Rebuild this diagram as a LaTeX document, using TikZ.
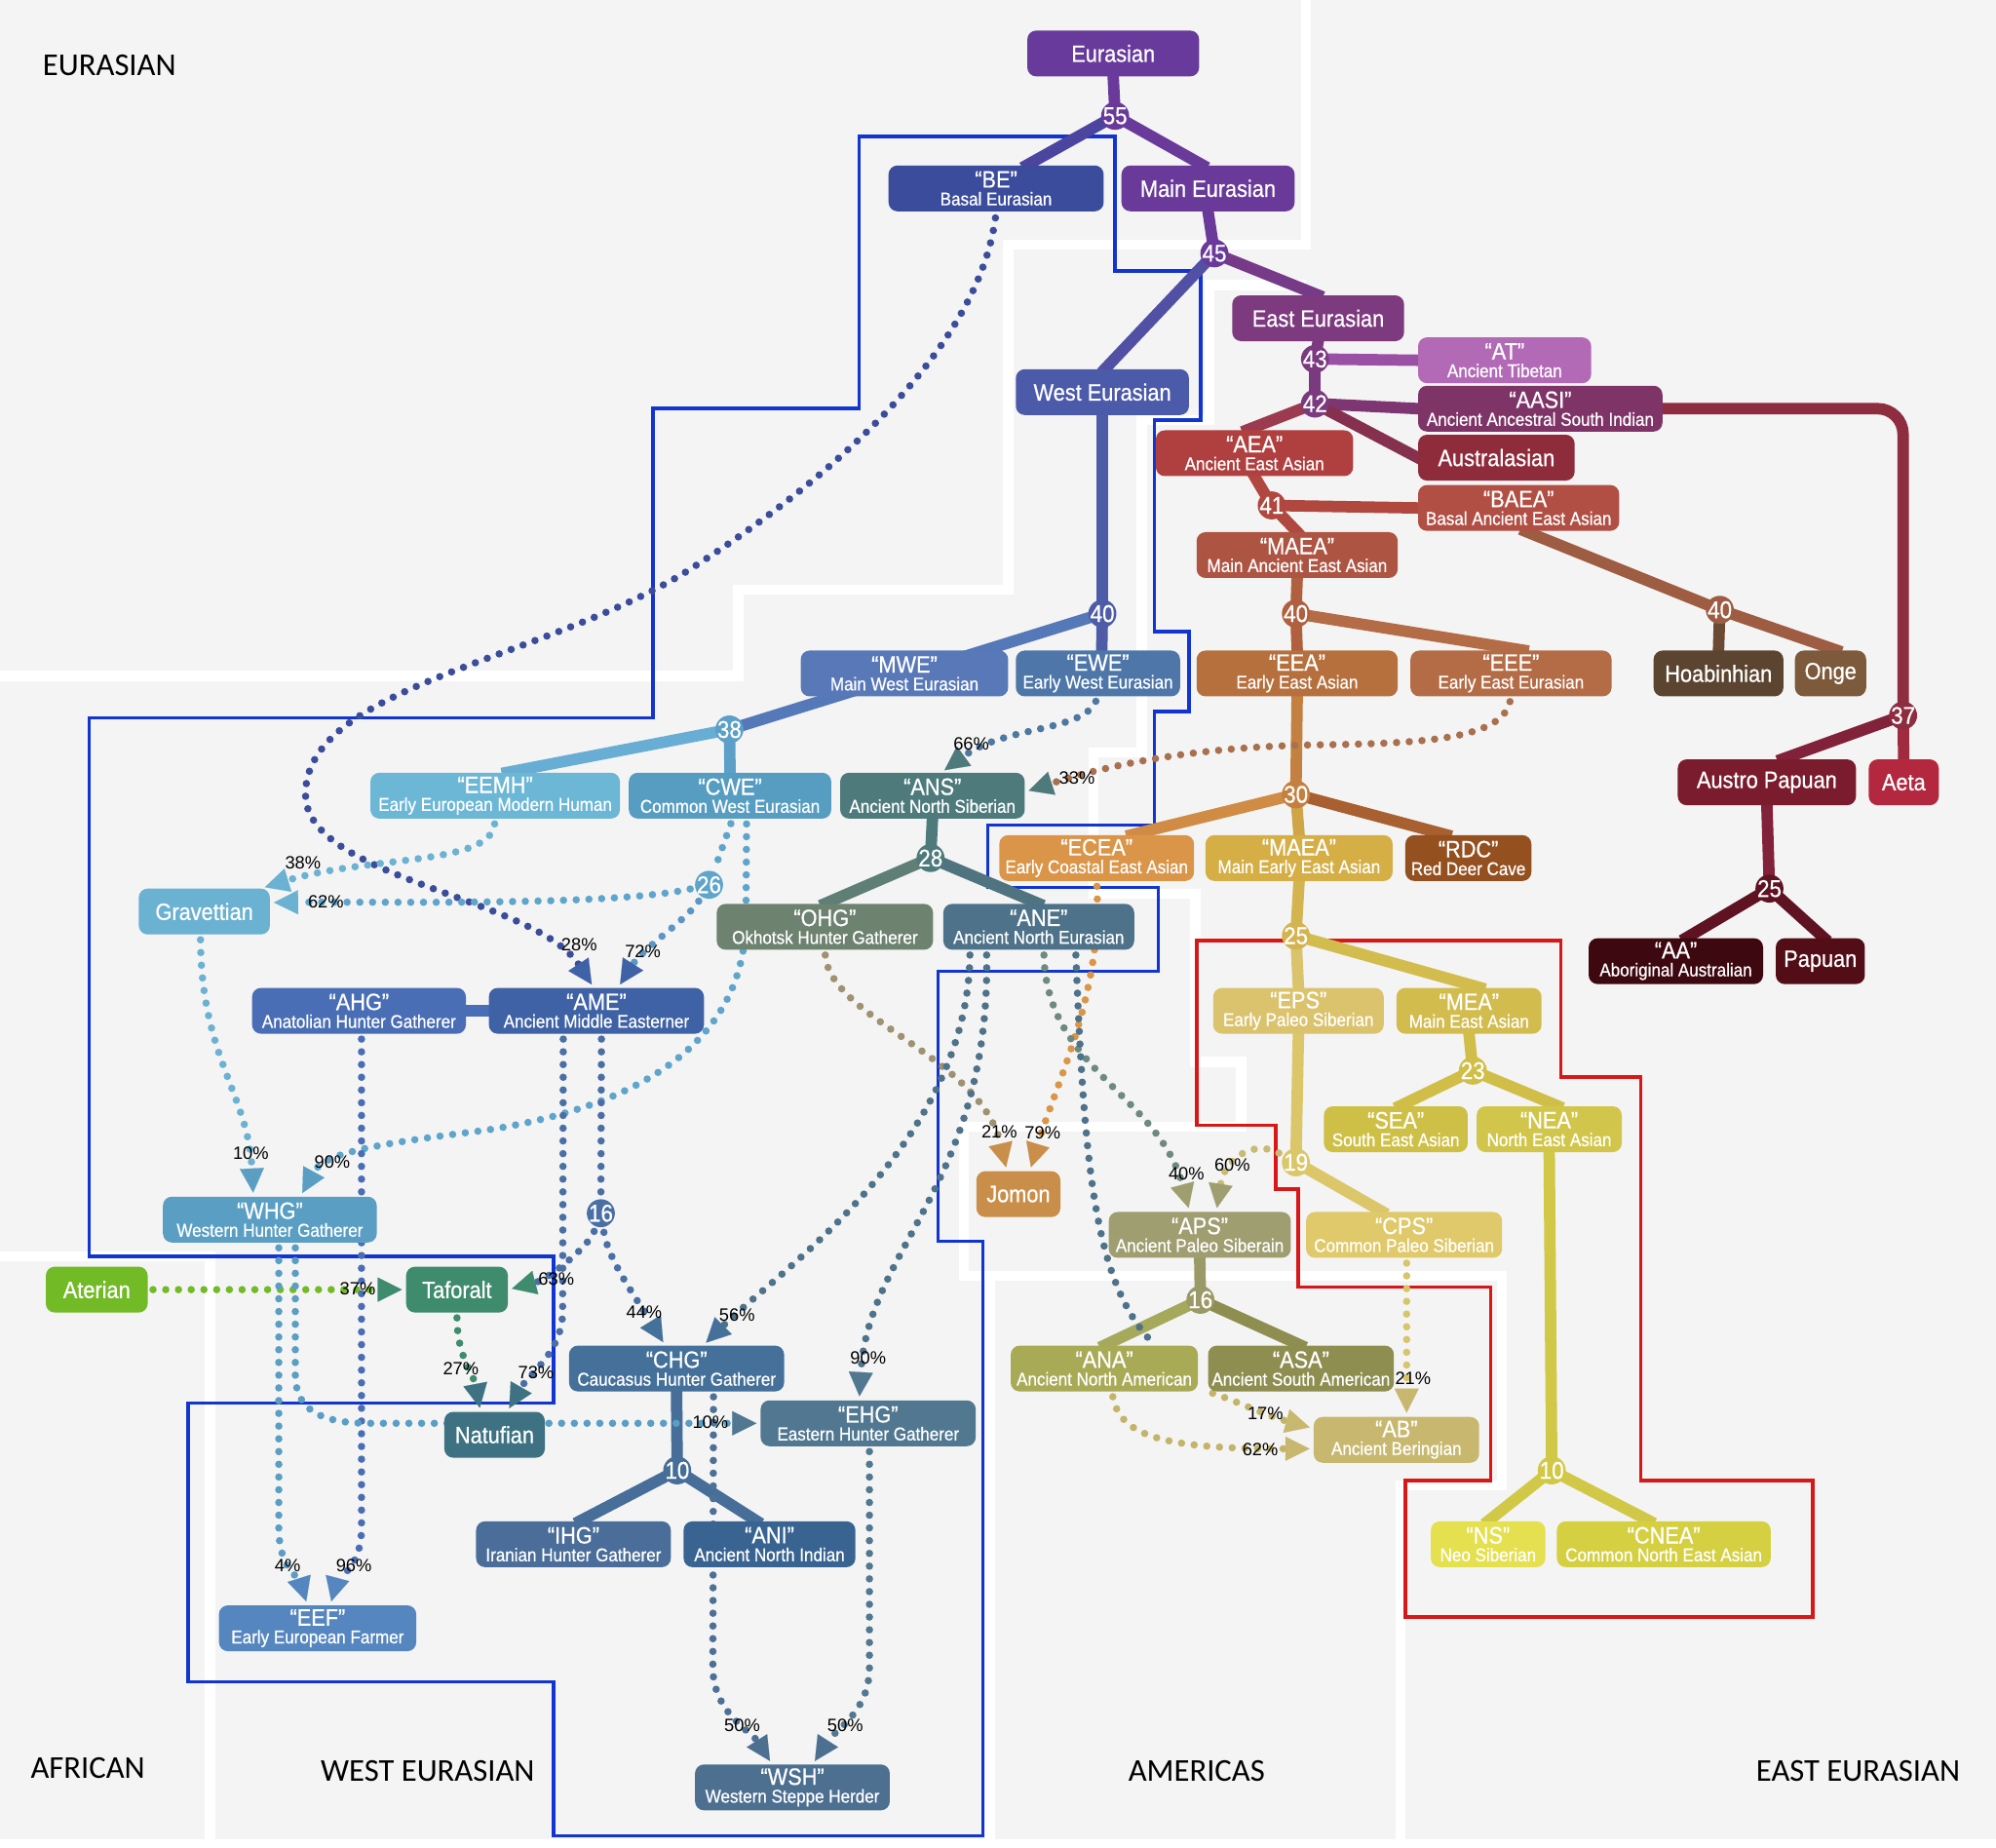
\documentclass[tikz,border=0pt]{standalone}
\usepackage{fontspec}
\newfontfamily\boxfont{Liberation Sans}[FakeStretch=0.9, FakeBold=0.6]
\newfontfamily\pctfont{Liberation Sans}
\newfontfamily\zonefont{Carlito}
\usetikzlibrary{arrows.meta}
\pgfdeclarelayer{back}
\pgfdeclarelayer{mid}
\pgfsetlayers{back,mid,main}
% box colours
\definecolor{cEur}{HTML}{683A9B}\definecolor{cBE}{HTML}{3A4C9B}\definecolor{cMain}{HTML}{6A3A9A}
\definecolor{cEast}{HTML}{7D3A7E}\definecolor{cWest}{HTML}{4C5AAA}\definecolor{cAT}{HTML}{B36AB6}
\definecolor{cAASI}{HTML}{7F3468}\definecolor{cAEA}{HTML}{B0403F}\definecolor{cAustral}{HTML}{8F2C3C}
\definecolor{cBAEA}{HTML}{B24F45}\definecolor{cMAEA}{HTML}{AE5442}\definecolor{cMWE}{HTML}{5878B8}
\definecolor{cEWE}{HTML}{4E76A8}\definecolor{cEEA}{HTML}{B6703E}\definecolor{cEEE}{HTML}{B46C47}
\definecolor{cHoab}{HTML}{5C4530}\definecolor{cOnge}{HTML}{7C5A3B}\definecolor{cEEMH}{HTML}{6CB6D6}
\definecolor{cCWE}{HTML}{579DC2}\definecolor{cANS}{HTML}{4E7A7B}\definecolor{cAP}{HTML}{7B1C2E}
\definecolor{cAeta}{HTML}{B4283F}\definecolor{cECEA}{HTML}{DA9548}\definecolor{cMAEAb}{HTML}{D5AE46}
\definecolor{cRDC}{HTML}{955020}\definecolor{cGrav}{HTML}{6BB1D2}\definecolor{cOHG}{HTML}{6E8270}
\definecolor{cANE}{HTML}{4D7289}\definecolor{cAA}{HTML}{3D0810}\definecolor{cPapuan}{HTML}{520D17}
\definecolor{cAHG}{HTML}{4A6EB5}\definecolor{cAME}{HTML}{3F62A6}\definecolor{cEPS}{HTML}{DBC36E}
\definecolor{cMEA}{HTML}{D3BC4E}\definecolor{cSEA}{HTML}{CEC047}\definecolor{cNEA}{HTML}{D1C64B}
\definecolor{cJomon}{HTML}{C98F4A}\definecolor{cWHG}{HTML}{5B9EC4}\definecolor{cAPS}{HTML}{9F9E71}
\definecolor{cCPS}{HTML}{E0C96A}\definecolor{cAterian}{HTML}{72BB26}\definecolor{cTaforalt}{HTML}{3E8B6D}
\definecolor{cCHG}{HTML}{44709A}\definecolor{cANA}{HTML}{A9AA56}\definecolor{cASA}{HTML}{8E8E50}
\definecolor{cNatufian}{HTML}{3E7282}\definecolor{cEHG}{HTML}{527891}\definecolor{cAB}{HTML}{C8B86F}
\definecolor{cIHG}{HTML}{4A6E99}\definecolor{cANI}{HTML}{396391}\definecolor{cNS}{HTML}{E4E04F}
\definecolor{cCNEA}{HTML}{D5D042}\definecolor{cEEF}{HTML}{5586BF}\definecolor{cWSH}{HTML}{4D6F90}
% line colours
\definecolor{lBE}{HTML}{4C45A0}\definecolor{lWestTop}{HTML}{5250A5}\definecolor{lEastTop}{HTML}{763A88}
\definecolor{lEast}{HTML}{7B3A80}\definecolor{lAT}{HTML}{9A50A5}\definecolor{lAASI}{HTML}{7E3672}
\definecolor{lAEA}{HTML}{9C3B50}\definecolor{lAustral}{HTML}{85304F}\definecolor{lAASIr}{HTML}{8E2C40}
\definecolor{lAeta}{HTML}{A02A40}\definecolor{lAP}{HTML}{82223A}\definecolor{lAPlow}{HTML}{5E1222}
\definecolor{lAEAlow}{HTML}{B04840}\definecolor{lBAEA}{HTML}{9E5C42}\definecolor{lHoab}{HTML}{6A4A32}
\definecolor{lMAEA}{HTML}{B0603F}\definecolor{lEEA}{HTML}{C48040}\definecolor{lECEA}{HTML}{D08C45}
\definecolor{lMAEAb}{HTML}{CFA548}\definecolor{lRDC}{HTML}{A86030}\definecolor{lMAEAlow}{HTML}{D4B450}
\definecolor{lEPS}{HTML}{DCC66A}\definecolor{lMEA}{HTML}{D0BE48}\definecolor{lNEA}{HTML}{D2C848}
\definecolor{lWest}{HTML}{4E5CA8}\definecolor{lWestMid}{HTML}{5478B8}\definecolor{lEEMH}{HTML}{68AED4}
\definecolor{lCWE}{HTML}{5CA0C8}\definecolor{lOHG}{HTML}{5E7E76}\definecolor{lANE}{HTML}{4F7480}
\definecolor{lAPS}{HTML}{9A9A68}\definecolor{lANA}{HTML}{A6A85C}\definecolor{lCHG}{HTML}{466E98}
% dotted colours
\definecolor{dBE}{HTML}{3B4D9A}\definecolor{dEEMH}{HTML}{6CB2D3}\definecolor{dCWE}{HTML}{5FA5CB}
\definecolor{dCWEb}{HTML}{5A96C6}\definecolor{dEWE}{HTML}{4E78A0}\definecolor{dEEE}{HTML}{A8704E}
\definecolor{dOHG}{HTML}{9E9272}\definecolor{dANEb}{HTML}{6E8A80}\definecolor{dYel}{HTML}{C8BC74}
\definecolor{dAME}{HTML}{4A6FA5}\definecolor{dCHG}{HTML}{4E7096}\definecolor{dAB}{HTML}{C4B46A}
\definecolor{dCPS}{HTML}{D8C46A}
\definecolor{bgray}{HTML}{F4F4F4}\definecolor{bluebox}{HTML}{1234D0}\definecolor{redbox}{HTML}{D81818}
\newcommand{\pop}[2]{{\fontsize{18.5}{18}\selectfont #1}\\[-4pt]{\fontsize{14.5}{14}\selectfont #2}}
\begin{document}
\begin{tikzpicture}[x=1pt, y=-1pt,
    pop/.style={rectangle, rounded corners=7pt, minimum height=36pt, inner sep=1pt, text=white,
      align=center, font=\boxfont\fontsize{18.5}{18}\selectfont},
    junc/.style={circle, minimum size=22pt, inner sep=0pt, text=white, font=\boxfont\fontsize{19}{19}\selectfont,
      execute at begin node={\hbox to 0pt\bgroup\hss}, execute at end node={\hss\egroup}},
    tree/.style={line width=9pt, shorten <=-4pt, shorten >=-4pt},
    feed/.style={line width=5.8pt, line cap=round, dash pattern=on 0pt off 10pt, shorten <=4pt},
    flow/.style={feed, -{Triangle[length=19pt, width=19pt, line width=0.1pt, color=#1]}, shorten >=3pt},
    pct/.style={font=\pctfont\fontsize{14}{14}\selectfont, inner sep=0pt},
    zone/.style={font=\zonefont\fontsize{25}{25}\selectfont, inner sep=0pt},
    band/.style={white, line width=8pt},
    frame/.style={line width=2.8pt}
  ]
  \useasboundingbox (0,0) rectangle (1568,1451);

  \node[pop, fill=cEur, minimum width=135pt] (eur) at (874.5,42) {Eurasian};
  \node[pop, fill=cBE, minimum width=169pt] (be) at (782.5,148) {\pop{“BE”}{Basal Eurasian}};
  \node[pop, fill=cMain, minimum width=136pt] (maineur) at (949,148) {Main Eurasian};
  \node[pop, fill=cEast, minimum width=135pt] (easteur) at (1035.5,250) {East Eurasian};
  \node[pop, fill=cWest, minimum width=136pt] (westeur) at (866,308) {West Eurasian};
  \node[pop, fill=cAT, minimum width=136pt] (at) at (1182,283) {\pop{“AT”}{Ancient Tibetan}};
  \node[pop, fill=cAASI, minimum width=192pt] (aasi) at (1210,321) {\pop{“AASI”}{Ancient Ancestral South Indian}};
  \node[pop, fill=cAEA, minimum width=155pt] (aea) at (985.5,356) {\pop{“AEA”}{Ancient East Asian}};
  \node[pop, fill=cAustral, minimum width=123pt] (austral) at (1175.5,359.5) {Australasian};
  \node[pop, fill=cBAEA, minimum width=158pt] (baea) at (1193,399) {\pop{“BAEA”}{Basal Ancient East Asian}};
  \node[pop, fill=cMAEA, minimum width=158pt] (maea) at (1019,436) {\pop{“MAEA”}{Main Ancient East Asian}};
  \node[pop, fill=cMWE, minimum width=163pt] (mwe) at (710.5,529) {\pop{“MWE”}{Main West Eurasian}};
  \node[pop, fill=cEWE, minimum width=129pt] (ewe) at (862.5,529) {\pop{“EWE”}{Early West Eurasian}};
  \node[pop, fill=cEEA, minimum width=158pt] (eea) at (1019,529) {\pop{“EEA”}{Early East Asian}};
  \node[pop, fill=cEEE, minimum width=158pt] (eee) at (1187,529) {\pop{“EEE”}{Early East Eurasian}};
  \node[pop, fill=cHoab, minimum width=102pt] (hoab) at (1350,529) {Hoabinhian};
  \node[pop, fill=cOnge, minimum width=56pt] (onge) at (1438,529) {Onge};
  \node[pop, fill=cEEMH, minimum width=196pt] (eemh) at (389,625) {\pop{“EEMH”}{Early European Modern Human}};
  \node[pop, fill=cCWE, minimum width=159pt] (cwe) at (573.5,625) {\pop{“CWE”}{Common West Eurasian}};
  \node[pop, fill=cANS, minimum width=145pt] (ans) at (732.5,625) {\pop{“ANS”}{Ancient North Siberian}};
  \node[pop, fill=cAP, minimum width=140pt] (austpap) at (1388,614.5) {Austro Papuan};
  \node[pop, fill=cAeta, minimum width=55pt] (aeta) at (1495.5,614.5) {Aeta};
  \node[pop, fill=cECEA, minimum width=153pt] (ecea) at (861.5,674) {\pop{“ECEA”}{Early Coastal East Asian}};
  \node[pop, fill=cMAEAb, minimum width=147pt] (maea2) at (1020.5,674) {\pop{“MAEA”}{Main Early East Asian}};
  \node[pop, fill=cRDC, minimum width=99pt] (rdc) at (1153.5,674) {\pop{“RDC”}{Red Deer Cave}};
  \node[pop, fill=cGrav, minimum width=103pt] (grav) at (160.5,716) {Gravettian};
  \node[pop, fill=cOHG, minimum width=170pt] (ohg) at (648,728) {\pop{“OHG”}{Okhotsk Hunter Gatherer}};
  \node[pop, fill=cANE, minimum width=150pt] (ane) at (816,728) {\pop{“ANE”}{Ancient North Eurasian}};
  \node[pop, fill=cAA, minimum width=137pt] (aa) at (1316.5,755) {\pop{“AA”}{Aboriginal Australian}};
  \node[pop, fill=cPapuan, minimum width=70pt] (papuan) at (1430,755) {Papuan};
  \node[pop, fill=cAHG, minimum width=168pt] (ahg) at (282,794) {\pop{“AHG”}{Anatolian Hunter Gatherer}};
  \node[pop, fill=cAME, minimum width=169pt] (ame) at (468.5,794) {\pop{“AME”}{Ancient Middle Easterner}};
  \node[pop, fill=cEPS, minimum width=134pt] (eps) at (1020,794) {\pop{“EPS”}{Early Paleo Siberian}};
  \node[pop, fill=cMEA, minimum width=114pt] (mea) at (1154,794) {\pop{“MEA”}{Main East Asian}};
  \node[pop, fill=cSEA, minimum width=113pt] (sea) at (1096.5,887) {\pop{“SEA”}{South East Asian}};
  \node[pop, fill=cNEA, minimum width=114pt] (nea) at (1217,887) {\pop{“NEA”}{North East Asian}};
  \node[pop, fill=cJomon, minimum width=66pt] (jomon) at (800,938) {Jomon};
  \node[pop, fill=cWHG, minimum width=168pt] (whg) at (212,958) {\pop{“WHG”}{Western Hunter Gatherer}};
  \node[pop, fill=cAPS, minimum width=143pt] (aps) at (942.5,970) {\pop{“APS”}{Ancient Paleo Siberain}};
  \node[pop, fill=cCPS, minimum width=154pt] (cps) at (1103,970) {\pop{“CPS”}{Common Paleo Siberian}};
  \node[pop, fill=cAterian, minimum width=80pt] (aterian) at (76,1013) {Aterian};
  \node[pop, fill=cTaforalt, minimum width=80pt] (taforalt) at (359,1013) {Taforalt};
  \node[pop, fill=cCHG, minimum width=169pt] (chg) at (531.5,1075) {\pop{“CHG”}{Caucasus Hunter Gatherer}};
  \node[pop, fill=cANA, minimum width=147pt] (ana) at (867.5,1075) {\pop{“ANA”}{Ancient North American}};
  \node[pop, fill=cASA, minimum width=146pt] (asa) at (1022,1075) {\pop{“ASA”}{Ancient South American}};
  \node[pop, fill=cNatufian, minimum width=79pt] (natufian) at (388.5,1127) {Natufian};
  \node[pop, fill=cEHG, minimum width=169pt] (ehg) at (682,1118) {\pop{“EHG”}{Eastern Hunter Gatherer}};
  \node[pop, fill=cAB, minimum width=130pt] (ab) at (1097,1131) {\pop{“AB”}{Ancient Beringian}};
  \node[pop, fill=cIHG, minimum width=153pt] (ihg) at (450.5,1213) {\pop{“IHG”}{Iranian Hunter Gatherer}};
  \node[pop, fill=cANI, minimum width=135pt] (ani) at (604.5,1213) {\pop{“ANI”}{Ancient North Indian}};
  \node[pop, fill=cNS, minimum width=90pt] (ns) at (1169,1213) {\pop{“NS”}{Neo Siberian}};
  \node[pop, fill=cCNEA, minimum width=168pt] (cnea) at (1307,1213) {\pop{“CNEA”}{Common North East Asian}};
  \node[pop, fill=cEEF, minimum width=155pt] (eef) at (249.5,1279) {\pop{“EEF”}{Early European Farmer}};
  \node[pop, fill=cWSH, minimum width=153pt] (wsh) at (622.5,1404) {\pop{“WSH”}{Western Steppe Herder}};

  \node[junc, fill=cMain] (j55) at (876,91) {55};
  \node[junc, fill=cMain] (j45) at (954,199) {45};
  \node[junc, fill=lEast] (j43) at (1033,282) {43};
  \node[junc, fill=lEast] (j42) at (1033,317) {42};
  \node[junc, fill=lAEAlow] (j41) at (999,397) {41};
  \node[junc, fill=lWest] (j40a) at (866,482) {40};
  \node[junc, fill=lMAEA] (j40b) at (1018,482) {40};
  \node[junc, fill=lBAEA] (j40c) at (1351,479) {40};
  \node[junc, fill=lCWE] (j38) at (573,573) {38};
  \node[junc, fill=lAASIr] (j37) at (1495,562) {37};
  \node[junc, fill=lEEA] (j30) at (1018,624) {30};
  \node[junc, fill=cANS] (j28) at (731,674) {28};
  \node[junc, fill=dCWE] (j26) at (557,695) {26};
  \node[junc, fill=lMAEAlow] (j25a) at (1018,735) {25};
  \node[junc, fill=lAPlow] (j25b) at (1390,698) {25};
  \node[junc, fill=lMEA] (j23) at (1157,841) {23};
  \node[junc, fill=lEPS] (j19) at (1018,913) {19};
  \node[junc, fill=dAME] (j16a) at (472,953) {16};
  \node[junc, fill=lAPS] (j16b) at (943,1021) {16};
  \node[junc, fill=lCHG] (j10a) at (532,1155) {10};
  \node[junc, fill=lNEA] (j10b) at (1219,1155) {10};

  \node[pct] (p38) at (238,678) {38\%};
  \node[pct] (p62a) at (256,708) {62\%};
  \node[pct] (p28) at (455,742) {28\%};
  \node[pct] (p72) at (505,747) {72\%};
  \node[pct] (p66) at (763,584) {66\%};
  \node[pct] (p33) at (846,611) {33\%};
  \node[pct] (p10a) at (197,906) {10\%};
  \node[pct] (p90a) at (261,913) {90\%};
  \node[pct] (p21a) at (785,889) {21\%};
  \node[pct] (p79) at (819,890) {79\%};
  \node[pct] (p40) at (932,922) {40\%};
  \node[pct] (p60) at (968,915) {60\%};
  \node[pct] (p37) at (281,1012) {37\%};
  \node[pct] (p63) at (437,1005) {63\%};
  \node[pct] (p44) at (506,1031) {44\%};
  \node[pct] (p56) at (579,1033) {56\%};
  \node[pct] (p90b) at (682,1067) {90\%};
  \node[pct] (p27) at (362,1075) {27\%};
  \node[pct] (p73) at (421,1078) {73\%};
  \node[pct] (p21b) at (1110,1083) {21\%};
  \node[pct] (p10b) at (558,1117) {10\%};
  \node[pct] (p17) at (994,1110) {17\%};
  \node[pct] (p62b) at (990,1139) {62\%};
  \node[pct] (p4) at (226,1230) {4\%};
  \node[pct] (p96) at (278,1230) {96\%};
  \node[pct] (p50a) at (583,1355) {50\%};
  \node[pct] (p50b) at (664,1355) {50\%};

  \node[zone] (zeur) at (86,51) {EURASIAN};
  \node[zone] (zafr) at (69,1389) {AFRICAN};
  \node[zone] (zweur) at (336,1391) {WEST EURASIAN};
  \node[zone] (zamer) at (940,1391) {AMERICAS};
  \node[zone, anchor=east] (zeeur) at (1540,1391) {EAST EURASIAN};

  \begin{pgfonlayer}{back}
    \fill[bgray] (0,0) rectangle (1568,1451);
    \draw[band] (0,531) -- (580,531) -- (580,463) -- (792,463) -- (792,192) -- (1026,192) -- (1026,0);
    \draw[band] (1026,224) -- (950,224) -- (950,330) -- (897,330) -- (897,591) -- (859,591) -- (859,702)
      -- (939,702) -- (939,834) -- (975,834) -- (975,885) -- (757,885) -- (757,1002) -- (1180,1002)
      -- (1180,1167) -- (1100,1167) -- (1100,1451);
    \draw[band] (778,1002) -- (778,1451);
    \draw[band] (0,987) -- (165,987) -- (165,1451);
    \draw[band] (0,1449) -- (1568,1449);
    \draw[frame, bluebox] (675,107) -- (876,107) -- (876,213) -- (943,213) -- (943,330) -- (907,330)
      -- (907,496) -- (934,496) -- (934,559) -- (907,559) -- (907,648) -- (776,648) -- (776,697)
      -- (910,697) -- (910,763) -- (737,763) -- (737,975) -- (772,975) -- (772,1442) -- (435,1442)
      -- (435,1321) -- (148,1321) -- (148,1102) -- (435,1102) -- (435,987) -- (70,987) -- (70,564)
      -- (513,564) -- (513,321) -- (675,321) -- cycle;
    \draw[frame, redbox] (940,739) -- (1226,739) -- (1226,846) -- (1289,846) -- (1289,1163) -- (1424,1163)
      -- (1424,1270) -- (1104,1270) -- (1104,1163) -- (1171,1163) -- (1171,1011) -- (1020,1011)
      -- (1020,934) -- (1002,934) -- (1002,884) -- (940,884) -- cycle;
  \end{pgfonlayer}

  \begin{pgfonlayer}{mid}
    \draw[tree, cMain] (eur.south) -- (j55);
    \draw[tree, lBE] (j55) -- ([xshift=24pt]be.north);
    \draw[tree, cMain] (j55) -- ([xshift=-4pt]maineur.north);
    \draw[tree, cMain] (maineur.south) -- (j45);
    \draw[tree, lWestTop] (j45) -- ([xshift=2pt]westeur.north);
    \draw[tree, lEastTop] (j45) -- (easteur.north);
    \draw[tree, lEast] (easteur.south) -- (j43);
    \draw[tree, lEast] (j43) -- (j42);
    \draw[tree, lAT] (j43) -- (at.west);
    \draw[tree, lAASI] (j42) -- (aasi.west);
    \draw[tree, lAEA] (j42) -- ([xshift=-6pt]aea.north);
    \draw[tree, lAustral] (j42) -- (austral.west);
    \draw[tree, lAASIr, rounded corners=20pt] (aasi.east) -| (j37);
    \draw[tree, lAeta] (j37) -- (aeta.north);
    \draw[tree, lAP] (j37) -- ([xshift=12pt]austpap.north);
    \draw[tree, lAP] (austpap.south) -- (j25b);
    \draw[tree, lAPlow] (j25b) -- ([xshift=8pt]aa.north);
    \draw[tree, lAPlow] (j25b) -- ([xshift=3pt]papuan.north);
    \draw[tree, lAEAlow] (aea.south) -- (j41);
    \draw[tree, lAEAlow] (j41) -- (maea.north);
    \draw[tree, lAEAlow] (j41) -- (baea.west);
    \draw[tree, lBAEA] ([xshift=5pt]baea.south) -- (j40c);
    \draw[tree, lBAEA] (j40c) -- ([xshift=5pt]onge.north);
    \draw[tree, lHoab] (j40c) -- (hoab.north);
    \draw[tree, lMAEA] (maea.south) -- (j40b);
    \draw[tree, lMAEA] (j40b) -- (eea.north);
    \draw[tree, cEEE] (j40b) -- ([xshift=10pt]eee.north);
    \draw[tree, lEEA] (eea.south) -- (j30);
    \draw[tree, lECEA] (j30) -- ([xshift=27pt]ecea.north);
    \draw[tree, lMAEAb] (j30) -- (maea2.north);
    \draw[tree, lRDC] (j30) -- ([xshift=-17pt]rdc.north);
    \draw[tree, lMAEAlow] (maea2.south) -- (j25a);
    \draw[tree, cEPS] (j25a) -- (eps.north);
    \draw[tree, cMEA] (j25a) -- ([xshift=9pt]mea.north);
    \draw[tree, lEPS] (eps.south) -- (j19);
    \draw[tree, lEPS] (j19) -- ([xshift=-17pt]cps.north);
    \draw[tree, lMEA] (mea.south) -- (j23);
    \draw[tree, lMEA] (j23) -- ([xshift=3pt]sea.north);
    \draw[tree, lMEA] (j23) -- ([xshift=7pt]nea.north);
    \draw[tree, lNEA] (nea.south) -- (j10b);
    \draw[tree, lNEA] (j10b) -- (ns.north);
    \draw[tree, lNEA] (j10b) -- ([xshift=-11pt]cnea.north);
    \draw[tree, lWest] (westeur.south) -- (j40a);
    \draw[tree, lWest] (j40a) -- ([xshift=3pt]ewe.north);
    \draw[tree, lWestMid] (j40a) -- (j38);
    \draw[tree, lEEMH] (j38) -- ([xshift=9pt]eemh.north);
    \draw[tree, lCWE] (j38) -- (cwe.north);
    \draw[tree, cANS] (ans.south) -- (j28);
    \draw[tree, lOHG] (j28) -- (ohg.north);
    \draw[tree, lANE] (j28) -- (ane.north);
    \draw[tree, lAPS] (aps.south) -- (j16b);
    \draw[tree, lANA] (j16b) -- (ana.north);
    \draw[tree, cASA] (j16b) -- (asa.north);
    \draw[tree, lCHG] (chg.south) -- (j10a);
    \draw[tree, lCHG] (j10a) -- ([xshift=5pt]ihg.north);
    \draw[tree, lCHG] (j10a) -- ([xshift=-10pt]ani.north);
    \draw[tree, cAHG] (ahg.east) -- (ame.west);

    \draw[flow=cAME, draw=dBE] ([yshift=-1pt]be.south) .. controls (770,260) and (680,360) .. (536,451)
      .. controls (420,520) and (240,540) .. (240,624) .. controls (240,690) and (420,705) .. ([xshift=-2pt]ame.north);
    \draw[flow=cGrav, draw=dEEMH] (eemh.south) .. controls (385,680) and (290,672) .. ([xshift=-7pt]grav.north east);
    \draw[feed, draw=dCWE] ([xshift=2pt]cwe.south) -- (j26);
    \draw[flow=cGrav, draw=dCWE] (j26) .. controls (480,712) and (300,708) .. ([yshift=7pt]grav.east);
    \draw[flow=cAME, draw=dCWEb] (j26) .. controls (540,722) and (505,745) .. ([xshift=17pt]ame.north);
    \draw[flow=cWHG, draw=dCWE] ([xshift=13pt]cwe.south) -- (586,720) .. controls (586,820) and (500,870) .. (380,888)
      .. controls (300,898) and (255,905) .. ([xshift=24pt]whg.north);
    \draw[flow=cWHG, draw=cGrav] ([xshift=-3pt]grav.south) .. controls (158,830) and (195,860) .. ([xshift=-13pt]whg.north);
    \draw[flow=cANS, draw=dEWE] (ewe.south) .. controls (850,575) and (790,570) .. ([xshift=7pt]ans.north);
    \draw[flow=cANS, draw=dEEE] (eee.south) .. controls (1180,580) and (1120,584) .. (1040,585)
      .. controls (950,586) and (880,598) .. ([yshift=3pt]ans.east);
    \draw[flow=cJomon, draw=dOHG] (ohg.south) .. controls (652,800) and (770,830) .. ([xshift=-9pt]jomon.north);
    \draw[flow=cJomon, draw=cECEA] (ecea.south) .. controls (866,780) and (830,850) .. ([xshift=9pt]jomon.north);
    \draw[flow=cCHG, draw=cANE] ([xshift=-54pt]ane.south) .. controls (760,900) and (610,1000) .. ([xshift=21pt]chg.north);
    \draw[flow=cEHG, draw=cANE] ([xshift=-41pt]ane.south) .. controls (778,930) and (682,980) .. ([xshift=-7pt]ehg.north);
    \draw[flow=cAPS, draw=dANEb] ([xshift=4pt]ane.south) .. controls (822,840) and (910,860) .. ([xshift=-8pt]aps.north);
    \draw[feed, draw=cANE] ([xshift=29pt]ane.south) .. controls (852,920) and (860,1010) .. ([xshift=40pt]ana.north);
    \draw[flow=cAPS, draw=dYel] (j19) .. controls (985,895) and (962,910) .. ([xshift=13pt]aps.north);
    \draw[feed, draw=dAME] ([xshift=4pt]ame.south) -- (j16a);
    \draw[flow=cCHG, draw=dAME] (j16a) .. controls (478,990) and (500,1020) .. ([xshift=-9pt]chg.north);
    \draw[flow=cTaforalt, draw=dAME] (j16a) .. controls (462,980) and (430,1005) .. (taforalt.east);
    \draw[flow=cNatufian, draw=dAME] ([xshift=-26pt]ame.south) -- (442,1030) .. controls (442,1062) and (415,1080) .. ([xshift=10pt]natufian.north);
    \draw[flow=cTaforalt, draw=cAterian] (aterian.east) -- (taforalt.west);
    \draw[flow=cNatufian, draw=cTaforalt] (taforalt.south) .. controls (359,1065) and (372,1080) .. ([xshift=-11pt]natufian.north);
    \draw[flow=cEEF, draw=cWHG] ([xshift=7pt]whg.south) -- (219,1200) .. controls (219,1232) and (235,1240) .. ([xshift=-8pt]eef.north);
    \draw[flow=cEEF, draw=cAHG] ([xshift=2pt]ahg.south) -- (284,1200) .. controls (284,1232) and (265,1240) .. ([xshift=10pt]eef.north);
    \draw[flow=cEHG, draw=cWHG] ([xshift=20pt]whg.south) -- (232,1080) .. controls (232,1106) and (250,1118) .. (290,1118) -- (ehg.west);
    \draw[flow=cWSH, draw=dCHG] ([xshift=29pt]chg.south) -- (560,1310) .. controls (560,1345) and (590,1360) .. ([xshift=-16pt]wsh.north);
    \draw[flow=cWSH, draw=cEHG] ([xshift=1pt]ehg.south) -- (683,1310) .. controls (683,1345) and (655,1360) .. ([xshift=16pt]wsh.north);
    \draw[flow=cAB, draw=dCPS] ([xshift=2pt]cps.south) -- ([xshift=8pt]ab.north);
    \draw[flow=cAB, draw=dAB] ([xshift=6pt]ana.south) .. controls (880,1130) and (920,1138) .. ([yshift=-7pt]ab.west);
    \draw[flow=cAB, draw=dAB] (asa.south west) .. controls (970,1100) and (995,1112) .. ([yshift=9pt]ab.west);
  \end{pgfonlayer}
\end{tikzpicture}
\end{document}
